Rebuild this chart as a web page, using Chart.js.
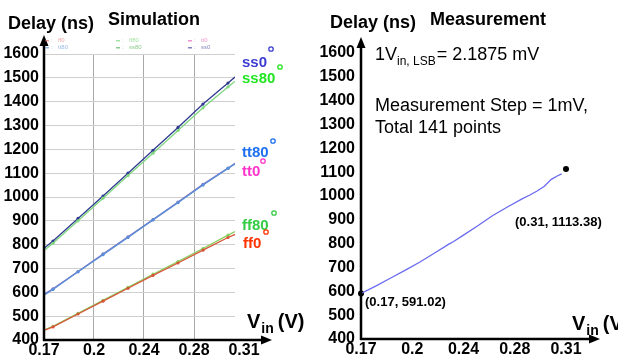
<!DOCTYPE html>
<html><head><meta charset="utf-8">
<script src="https://cdn.jsdelivr.net/npm/chart.js@4"></script>
<style>
html,body{margin:0;padding:0;background:#fff;width:618px;height:359px;overflow:hidden}
#l{position:absolute;left:0;top:0}
#r{position:absolute;left:309px;top:0}
</style>
</head><body>
<canvas id="l" width="309" height="359"></canvas>
<canvas id="r" width="309" height="359"></canvas>
<script>
// ---------- data ----------
const xTickVals = [0.17, 0.205, 0.24, 0.275, 0.31];
const xTickLabels = ['0.17', '0.2', '0.24', '0.28', '0.31'];
const yTickVals = [400, 500, 600, 700, 800, 900, 1000, 1100, 1200, 1300, 1400, 1500, 1600];

// Simulation (left)
const simX  = [0.17, 0.1763, 0.1938, 0.2113, 0.2288, 0.2463, 0.2638, 0.2813, 0.2988, 0.3037];
const ss0   = [785, 815, 910, 1004, 1100, 1196, 1292, 1390, 1478, 1503];
const ss80  = [776, 806, 900, 995, 1090, 1184, 1279, 1374, 1462, 1486];
const tt80  = [588, 612, 686, 758, 830, 904, 976, 1050, 1120, 1138];
const tt0   = [592, 615, 687, 761, 833, 905, 979, 1053, 1121, 1142];
const ff80  = [442, 457, 512, 566, 621, 676, 729, 784, 840, 855];
const ff0   = [440, 455, 509, 563, 617, 671, 723, 777, 830, 843];

// Measurement (right)
const measX = [0.17, 0.18, 0.19, 0.20, 0.21, 0.22, 0.23, 0.233, 0.24, 0.25, 0.26, 0.27, 0.28, 0.285, 0.29, 0.295, 0.30, 0.304, 0.307];
const measY = [591, 622, 655, 688, 722, 760, 798, 808, 836, 876, 918, 954, 988, 1003, 1020, 1040, 1070, 1084, 1093];
const measEndX = [0.17, 0.31];
const measEndY = [591.02, 1113.38];

// ---------- helpers ----------
const toXY = (xs, ys) => xs.map((x, i) => ({x: x, y: ys[i]}));
const simRadius = simX.map((x, i) => (i === 0 || i === simX.length - 1) ? 0 : 1.6);
function ds(label, ys, color) {
  return {label, data: toXY(simX, ys), borderColor: color, backgroundColor: color,
    pointBackgroundColor: color, pointBorderWidth: 0, borderWidth: 1.3, pointRadius: simRadius, tension: 0};
}
const F = '"Liberation Sans", Arial, sans-serif';

function arrowAxes(ctx, ox, oy, topTip, rightTip) {
  ctx.save();
  ctx.strokeStyle = '#000'; ctx.fillStyle = '#000'; ctx.lineWidth = 2.5;
  ctx.beginPath(); ctx.moveTo(ox, oy + 1); ctx.lineTo(ox, topTip + 8); ctx.stroke();
  ctx.beginPath(); ctx.moveTo(ox - 1, oy); ctx.lineTo(rightTip - 8, oy); ctx.stroke();
  ctx.beginPath(); ctx.moveTo(ox, topTip); ctx.lineTo(ox - 4.5, topTip + 11); ctx.lineTo(ox + 4.5, topTip + 11); ctx.closePath(); ctx.fill();
  ctx.beginPath(); ctx.moveTo(rightTip, oy); ctx.lineTo(rightTip - 11, oy - 4.5); ctx.lineTo(rightTip - 11, oy + 4.5); ctx.closePath(); ctx.fill();
  ctx.restore();
}
function txt(ctx, s, x, y, font, color, align) {
  ctx.font = font; ctx.fillStyle = color || '#000'; ctx.textAlign = align || 'left'; ctx.textBaseline = 'alphabetic';
  ctx.fillText(s, x, y);
  return ctx.measureText(s).width;
}
function ring(ctx, x, y, color) {
  ctx.save(); ctx.strokeStyle = color; ctx.lineWidth = 1.3;
  ctx.beginPath(); ctx.arc(x, y, 2.2, 0, Math.PI * 2); ctx.stroke(); ctx.restore();
}
function vinLabel(ctx, x, y) {
  let w = txt(ctx, 'V', x, y, 'bold 20px ' + F);
  let w2 = txt(ctx, 'in', x + w + 1, y + 5, 'bold 14px ' + F);
  txt(ctx, '(V)', x + w + w2 + 5, y, 'bold 20px ' + F);
}

// ---------- left chart ----------
const leftPlugin = {
  id: 'leftDeco',
  afterDraw(chart) {
    const ctx = chart.ctx;
    const ox = chart.scales.x.getPixelForValue(0.17);
    const oy = chart.scales.y.getPixelForValue(400);
    arrowAxes(ctx, ox, oy, 35, 272);
    txt(ctx, 'Delay (ns)', 8, 29, 'bold 18px ' + F);
    txt(ctx, 'Simulation', 108, 25, 'bold 18px ' + F);
    // faint legend
    const leg = [
      ['ff0', 'rgba(220,90,90,0.55)', 47, 42], ['ff80', 'rgba(90,200,90,0.55)', 118, 42], ['tt0', 'rgba(220,60,170,0.55)', 190, 42],
      ['tt80', 'rgba(70,130,210,0.55)', 47, 49], ['ss80', 'rgba(60,170,60,0.6)', 118, 49], ['ss0', 'rgba(50,50,150,0.6)', 190, 49]
    ];
    leg.forEach(([s, c, x, y]) => {
      ctx.fillStyle = c; ctx.fillRect(x - 2, y - 2, 4, 1.5);
      txt(ctx, ':', x + 4, y, '6px ' + F, c);
      txt(ctx, s, x + 11, y, '6px ' + F, c);
    });
    // series labels
    const labs = [
      ['ss0', '#3c3cd2', 242, 67, 271, 49],
      ['ss80', '#22e622', 242, 83, 280, 67],
      ['tt80', '#1e70f0', 242, 157, 273, 141],
      ['tt0', '#ff33cc', 242, 176, 263, 161],
      ['ff80', '#33cc44', 242, 230, 274, 213],
      ['ff0', '#ff3300', 243, 248, 266, 232]
    ];
    labs.forEach(([s, c, x, y, cx, cy]) => { txt(ctx, s, x, y, 'bold 15px ' + F, c); ring(ctx, cx, cy, c); });
    vinLabel(ctx, 247, 328);
  }
};

new Chart(document.getElementById('l'), {
  type: 'line',
  data: {datasets: [
    ds('ff0', ff0, '#d9553a'), ds('ff80', ff80, '#86cf5c'),
    ds('tt80', tt80, '#5b8fd8'), ds('tt0', tt0, '#7a70c0'),
    ds('ss80', ss80, '#7fd67f'), ds('ss0', ss0, '#2f3a90')
  ]},
  options: {
    responsive: false, animation: false, devicePixelRatio: 1,
    layout: {padding: {top: 54, right: 74, left: 0, bottom: 0}},
    plugins: {legend: {display: false}, tooltip: {enabled: false}},
    scales: {
      x: {type: 'linear', min: 0.17, max: 0.3037,
        afterBuildTicks: s => { s.ticks = xTickVals.map(v => ({value: v})); },
        afterFit: s => { s.height = 19; },
        border: {display: false},
        grid: {drawTicks: false, lineWidth: 1, color: c => (c.tick && c.tick.value > 0.305) ? 'rgba(0,0,0,0)' : '#a9a9a9'},
        ticks: {autoSkip: false, maxRotation: 0, padding: 1, color: '#000', font: {family: F, size: 16, weight: 'bold'},
          callback: (v, i) => xTickLabels[i]}
      },
      y: {type: 'linear', min: 400, max: 1600,
        afterBuildTicks: s => { s.ticks = yTickVals.map(v => ({value: v})); },
        afterFit: s => { s.width = 44; },
        border: {display: false},
        grid: {drawTicks: false, lineWidth: 1, color: '#cfcfcf'},
        ticks: {padding: 5, color: '#000', font: {family: F, size: 16, weight: 'bold'},
          callback: (v, i) => String(yTickVals[i])}
      }
    }
  },
  plugins: [leftPlugin]
});

// ---------- right chart ----------
const rightPlugin = {
  id: 'rightDeco',
  afterDraw(chart) {
    const ctx = chart.ctx;
    const ox = chart.scales.x.getPixelForValue(0.17);
    const oy = chart.scales.y.getPixelForValue(400);
    arrowAxes(ctx, ox, oy, 37, 291);
    txt(ctx, 'Delay (ns)', 21, 28, 'bold 18px ' + F);
    txt(ctx, 'Measurement', 121, 25, 'bold 18px ' + F);
    let w = txt(ctx, '1V', 66, 60, '18px ' + F);
    let w2 = txt(ctx, 'in, LSB', 66 + w, 65, '12px ' + F);
    txt(ctx, '= 2.1875 mV', 66 + w + w2 + 1, 60, '18px ' + F);
    txt(ctx, 'Measurement Step = 1mV,', 66, 111, '18px ' + F);
    txt(ctx, 'Total 141 points', 66, 133, '18px ' + F);
    txt(ctx, '(0.17, 591.02)', 56, 306, 'bold 13px ' + F);
    txt(ctx, '(0.31, 1113.38)', 206, 226, 'bold 13px ' + F);
    vinLabel(ctx, 263, 330);
  }
};

new Chart(document.getElementById('r'), {
  type: 'line',
  data: {datasets: [
    {label: 'meas', data: toXY(measX, measY), borderColor: '#6a6af0', borderWidth: 1.3, pointRadius: 0, tension: 0},
    {label: 'ends', data: toXY(measEndX, measEndY), showLine: false, pointRadius: 3, pointBackgroundColor: '#000',
      pointBorderWidth: 0, borderColor: '#000', clip: false}
  ]},
  options: {
    responsive: false, animation: false, devicePixelRatio: 1,
    layout: {padding: {top: 53, right: 52, left: 0, bottom: 0}},
    plugins: {legend: {display: false}, tooltip: {enabled: false}},
    scales: {
      x: {type: 'linear', min: 0.17, max: 0.31,
        afterBuildTicks: s => { s.ticks = xTickVals.map(v => ({value: v})); },
        afterFit: s => { s.height = 20; },
        border: {display: false},
        grid: {display: false, drawTicks: false},
        ticks: {autoSkip: false, maxRotation: 0, padding: 1, color: '#000', font: {family: F, size: 16, weight: 'bold'},
          callback: (v, i) => xTickLabels[i]}
      },
      y: {type: 'linear', min: 400, max: 1600,
        afterBuildTicks: s => { s.ticks = yTickVals.map(v => ({value: v})); },
        afterFit: s => { s.width = 52; },
        border: {display: false},
        grid: {display: false, drawTicks: false},
        ticks: {padding: 6, color: '#000', font: {family: F, size: 16, weight: 'bold'},
          callback: (v, i) => String(yTickVals[i])}
      }
    }
  },
  plugins: [rightPlugin]
});
</script>
</body></html>
